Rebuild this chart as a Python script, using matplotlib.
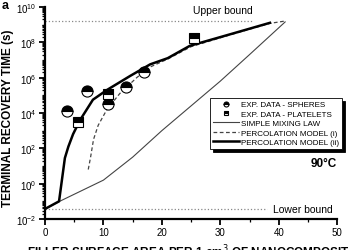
import matplotlib
matplotlib.use('Agg')
import matplotlib.pyplot as plt
import numpy as np

plt.rcParams['font.family'] = ['Liberation Sans', 'DejaVu Sans']

# bounds (s)
upper_bound = 10**9.2
lower_bound = 10**-1.43

# simple mixing law
mix_x = [0, 2.5, 5, 10, 15, 20, 25, 30, 35, 41.1]
mix_logt = [-1.43, -1.0, -0.6, 0.2, 1.5, 3.0, 4.4, 5.8, 7.3, 9.15]

# percolation model (i)
perc1_x = [7.4, 7.8, 8.3, 9.1, 10.6, 12.8, 15.7, 18, 21, 25, 32, 38.5, 41.1]
perc1_logt = [0.8, 1.5, 2.5, 3.3, 4.2, 5.1, 6.0, 6.6, 7.05, 7.75, 8.45, 9.07, 9.2]

# percolation model (ii)
perc2_x = [0, 2.4, 3.4, 4.0, 4.8, 6.0, 8.2, 10.6, 14.6, 18, 21, 24.8, 32.2, 38.5]
perc2_logt = [-1.43, -1.0, 1.45, 2.1, 2.8, 3.6, 4.75, 5.3, 6.1, 6.75, 7.1, 7.8, 8.5, 9.1]

# experimental data
spheres_x = [3.8, 7.1, 10.8, 13.9, 17.0]
spheres_logt = [4.11, 5.24, 4.5, 5.47, 6.32]
platelets_x = [5.65, 10.8, 25.5]
platelets_logt = [3.49, 5.07, 8.24]

fig = plt.figure(figsize=(3.49, 2.51), dpi=100)
ax = fig.add_axes([0.129, 0.1235, 0.837, 0.845])

ax.plot([0, 35.6], [upper_bound, upper_bound], color='#888888', ls=':', lw=0.9)
ax.plot([0, 38.0], [lower_bound, lower_bound], color='#888888', ls=':', lw=0.9)
ax.text(30.5, upper_bound * 2.2, 'Upper bound', fontsize=7.5, ha='center', va='bottom')
ax.text(39.0, lower_bound, 'Lower bound', fontsize=7.5, ha='left', va='center')

ax.plot(mix_x, 10**np.array(mix_logt), color='#444444', lw=0.8, label='SIMPLE MIXING LAW')
ax.plot(perc1_x, 10**np.array(perc1_logt), color='#444444', lw=0.9, ls=(0, (3, 2)),
        label='PERCOLATION MODEL (i)')
ax.plot(perc2_x, 10**np.array(perc2_logt), color='black', lw=1.8, label='PERCOLATION MODEL (ii)')

ax.plot(spheres_x, 10**np.array(spheres_logt), 'o', ms=8, fillstyle='top', mfc='black',
        mfcalt='white', mec='black', mew=0.8, label='EXP. DATA - SPHERES', zorder=5)
ax.plot(platelets_x, 10**np.array(platelets_logt), 's', ms=7, fillstyle='top', mfc='black',
        mfcalt='white', mec='black', mew=0.8, label='EXP. DATA - PLATELETS', zorder=5)

handles, labels = ax.get_legend_handles_labels()
order = [3, 4, 0, 1, 2]
leg = ax.legend([handles[i] for i in order], [labels[i] for i in order],
                loc='upper left', bbox_to_anchor=(0.565, 0.571), borderaxespad=0,
                fontsize=5.8, markerscale=0.45, handlelength=3.2, handletextpad=0.3,
                labelspacing=0.22, borderpad=0.35, fancybox=False, framealpha=1,
                edgecolor='black', shadow={'color': 'black', 'alpha': 1})
leg.get_frame().set_linewidth(0.6)

ax.text(1.0, 0.265, '90°C', transform=ax.transAxes, ha='right', va='center',
        fontsize=8.5, fontweight='bold')

ax.set_yscale('log')
ax.set_xlim(0, 50)
ax.set_ylim(1e-2, 1e10)
ax.set_xticks([0, 10, 20, 30, 40, 50])
ax.set_xticks([5, 15, 25, 35, 45], minor=True)
ax.set_yticks([10.0**k for k in range(-2, 11, 2)])
ax.yaxis.set_minor_locator(matplotlib.ticker.LogLocator(base=10, subs=np.arange(1, 10), numticks=30))
ax.yaxis.set_minor_formatter(matplotlib.ticker.NullFormatter())

for s in ['top', 'right']:
    ax.spines[s].set_visible(False)
for s in ['left', 'bottom']:
    ax.spines[s].set_linewidth(1.6)
ax.tick_params(which='major', direction='out', length=4, width=1.3, labelsize=7, pad=2)
ax.tick_params(which='minor', direction='out', length=2.5, width=0.9)

fig.text(0.024, 0.53, 'TERMINAL RECOVERY TIME (s)', rotation=90, fontsize=8.5,
         fontweight='bold', ha='center', va='center')
fig.text(0.078, 0.03, 'FILLER SURFACE AREA PER 1 cm$^3$ OF NANOCOMPOSITE (m$^2$/cm$^3$)',
         fontsize=8.5, fontweight='bold', va='top', ha='left')
fig.text(0.005, 0.975, 'a', fontsize=9, fontweight='bold', va='center')

fig.savefig('out.png', dpi=100)
